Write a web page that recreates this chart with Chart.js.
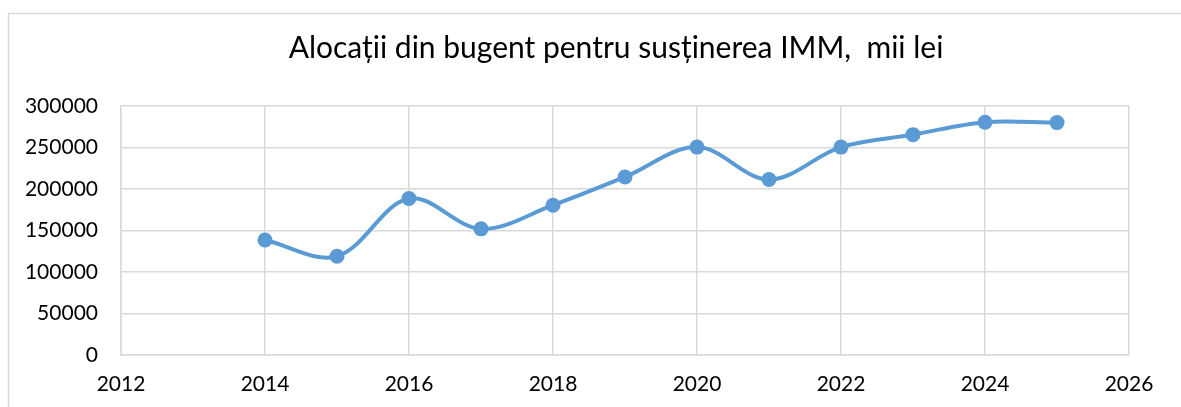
<!DOCTYPE html>
<html>
<head>
<meta charset="utf-8">
<script src="https://cdn.jsdelivr.net/npm/chart.js@4/dist/chart.umd.min.js"></script>
<style>
  html, body { margin: 0; padding: 0; background: #ffffff; }
  #wrap { width: 1181px; height: 407px; position: relative; }
</style>
</head>
<body>
<div id="wrap"><canvas id="chart" width="1181" height="407"></canvas></div>
<script>
// Budget allocations for SME support, thousand lei
const years = [2014, 2015, 2016, 2017, 2018, 2019, 2020, 2021, 2022, 2023, 2024, 2025];
const allocations = [138500, 119000, 188500, 152000, 180500, 214500, 250500, 211500, 250500, 265500, 280500, 280000];
const xTicks = [2012, 2014, 2016, 2018, 2020, 2022, 2024, 2026];
const yTicks = [0, 50000, 100000, 150000, 200000, 250000, 300000];
const titleText = 'Alocații din bugent pentru susținerea IMM,  mii lei';

const points = years.map((yr, i) => ({ x: yr, y: allocations[i] }));

const gridColor = '#d9d9d9';
const textColor = '#000000';
const fontFamily = 'Lato, "Open Sans", sans-serif';

// Light frame around the chart object, plus the heading centred over the plot
const framePlugin = {
  id: 'frame',
  beforeDraw(chart) {
    const ctx = chart.ctx;
    ctx.save();
    ctx.fillStyle = '#ffffff';
    ctx.fillRect(0, 0, chart.width, chart.height);
    ctx.strokeStyle = '#d9d9d9';
    ctx.lineWidth = 1.5;
    ctx.beginPath();
    ctx.moveTo(8.5, chart.height + 2);
    ctx.lineTo(8.5, 13.5);
    ctx.lineTo(chart.width + 2, 13.5);
    ctx.stroke();
    ctx.restore();
  },
  afterDraw(chart) {
    const ctx = chart.ctx;
    ctx.save();
    ctx.fillStyle = textColor;
    ctx.font = 'normal 30px ' + fontFamily;
    ctx.textAlign = 'center';
    ctx.textBaseline = 'middle';
    ctx.fillText(titleText, 616, 48);
    ctx.restore();
  }
};

new Chart(document.getElementById('chart'), {
  type: 'line',
  data: {
    datasets: [{
      data: points,
      borderColor: '#5b9bd5',
      backgroundColor: '#5b9bd5',
      borderWidth: 4,
      pointRadius: 7.5,
      pointHoverRadius: 7.5,
      pointBorderWidth: 0,
      pointBackgroundColor: '#5b9bd5',
      tension: 0.35,
      fill: false
    }]
  },
  options: {
    responsive: false,
    animation: false,
    devicePixelRatio: 1,
    layout: { padding: { left: 0, right: 52, top: 106, bottom: 0 } },
    plugins: {
      legend: { display: false },
      tooltip: { enabled: false },
      title: { display: false }
    },
    scales: {
      x: {
        type: 'linear',
        min: xTicks[0],
        max: xTicks[xTicks.length - 1],
        afterBuildTicks(scale) { scale.ticks = xTicks.map(v => ({ value: v })); },
        afterFit(scale) { scale.height = 52; },
        grid: { color: gridColor, lineWidth: 1.5, drawTicks: false },
        border: { color: gridColor, width: 1.5 },
        ticks: {
          color: textColor,
          font: { family: fontFamily, size: 21 },
          padding: 17,
          maxRotation: 0,
          callback: v => String(v)
        }
      },
      y: {
        min: yTicks[0],
        max: yTicks[yTicks.length - 1],
        afterBuildTicks(scale) { scale.ticks = yTicks.map(v => ({ value: v })); },
        afterFit(scale) { scale.width = 121; },
        grid: { color: gridColor, lineWidth: 1.5, drawTicks: false },
        border: { color: gridColor, width: 1.5 },
        ticks: {
          color: textColor,
          font: { family: fontFamily, size: 21 },
          padding: 23,
          callback: v => String(v)
        }
      }
    }
  },
  plugins: [framePlugin]
});
</script>
</body>
</html>
